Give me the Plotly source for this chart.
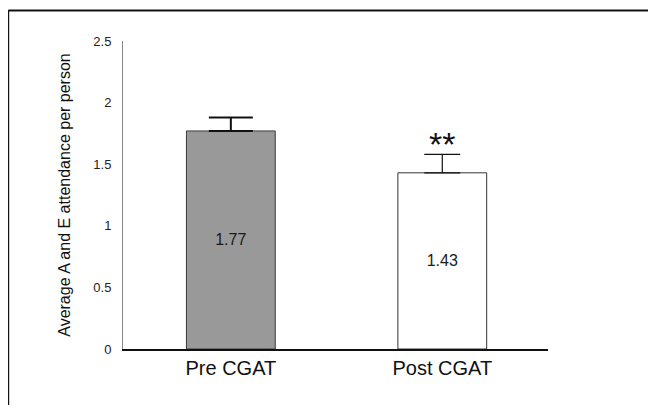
import plotly.graph_objects as go

categories = ["Pre CGAT", "Post CGAT"]
means = [1.77, 1.43]
errors = [0.11, 0.15]
value_labels = ["1.77", "1.43"]
significance = ["", "**"]

# page is drawn with an 8px body margin, so the figure is 8px smaller
W, H = 648, 397
L, T = 115, 33
PW, PH = 425, 308
R, B = W - L - PW, H - T - PH

def px_x(p):
    return (p - L) / PW

def px_y(p):
    return (T + PH - p) / PH

FONT = "Liberation Sans, Arial, sans-serif"

fig = go.Figure()
fills = ["#999999", "#ffffff"]
lines = ["#3a3a3a", "#333333"]
ebw = [2, 1.2]
capw = [22, 18]
for i in range(2):
    fig.add_trace(go.Bar(
        x=[i], y=[means[i]], width=0.42,
        marker=dict(color=fills[i], line=dict(color=lines[i], width=1)),
        text=[value_labels[i]], textposition="inside", insidetextanchor="middle",
        textfont=dict(size=16, color="#1a1a1a", family=FONT),
        error_y=dict(type="data", symmetric=False, array=[errors[i]], arrayminus=[0],
                     color="#111111", thickness=ebw[i], width=capw[i], visible=True),
        showlegend=False,
    ))

for i, s in enumerate(significance):
    if s:
        fig.add_annotation(x=i, y=means[i] + errors[i] + 0.08, text=s, showarrow=False,
                           yanchor="middle", font=dict(size=34, color="#111111", family=FONT))

fig.update_layout(
    width=W, height=H,
    margin=dict(l=L, r=R, t=T, b=B, pad=0),
    paper_bgcolor="white", plot_bgcolor="white",
    font=dict(family=FONT, color="#222222"),
    xaxis=dict(range=[-0.51, 1.5], tickvals=[0, 1], ticktext=categories,
               showline=True, linecolor="#111111", linewidth=2, showgrid=False,
               ticks="", tickfont=dict(size=20, color="#111111"), zeroline=False),
    yaxis=dict(range=[0, 2.5], tickvals=[0, 0.5, 1, 1.5, 2, 2.5],
               ticktext=["0", "0.5", "1", "1.5", "2", "2.5"],
               showline=True, linecolor="#888888", linewidth=1, showgrid=False,
               ticks="", ticklabelstandoff=8,
               tickfont=dict(size=13, color="#222222"), zeroline=False,
               title=dict(text="Average A and E attendance per person", standoff=18,
                          font=dict(size=16, color="#111111"))),
    shapes=[
        dict(type="line", xref="paper", yref="paper", x0=px_x(0.5), x1=px_x(W + 5), y0=px_y(2.5), y1=px_y(2.5),
             line=dict(color="#111111", width=2)),
        dict(type="line", xref="paper", yref="paper", x0=px_x(0.6), x1=px_x(0.6), y0=px_y(2), y1=px_y(H + 5),
             line=dict(color="#111111", width=1.2)),
    ],
)

fig.write_html("out.html")
